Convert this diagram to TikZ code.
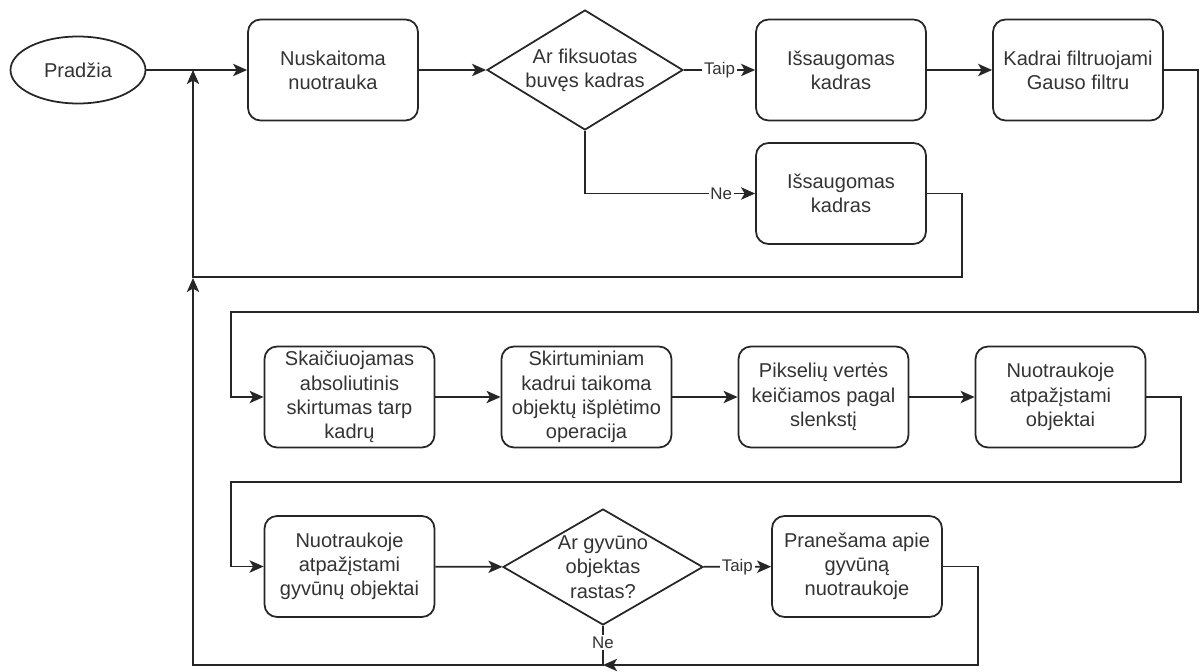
\documentclass[tikz,border=0pt]{standalone}
\usepackage{fontspec}
\setmainfont{Liberation Sans}
\usetikzlibrary{shapes.geometric,arrows.meta}

\begin{document}
\begin{tikzpicture}[x=0.02cm,y=-0.02cm,
    every node/.style={text=black!80, font=\fontsize{11.4}{13.8}\selectfont},
    box/.style={draw=black!85, line width=1pt, rectangle, rounded corners=0.25cm,
        minimum width=3.4cm, minimum height=2.02cm, inner sep=1pt, align=center},
    decision/.style={draw=black!85, line width=1pt, diamond, inner sep=-0.6cm, align=center},
    terminal/.style={draw=black!85, line width=1pt, ellipse,
        minimum width=2.7cm, minimum height=1.34cm, inner sep=0pt},
    flow/.style={draw=black!85, line width=1pt, -{Stealth[length=8pt,width=7pt,inset=2pt]}},
    lbl/.style={fill=white, inner sep=1pt, font=\fontsize{9.6}{11}\selectfont}]
    \useasboundingbox (0,0) rectangle (1200,672);
    % first row
    \node[terminal] (start) at (78,70) {Pradžia};
    \node[box] (read) at (333,70) {Nuskaitoma\\nuotrauka};
    \node[decision, minimum width=3.92cm, minimum height=2.4cm] (fixed) at (585,70) {Ar fiksuotas\\buvęs kadras};
    \node[box] (save1) at (841,70) {Išsaugomas\\kadras};
    \node[box] (gauss) at (1078,70) {Kadrai filtruojami\\Gauso filtru};
    \node[box] (save2) at (841,193.5) {Išsaugomas\\kadras};
    % second row
    \node[box] (diff) at (349.5,397) {Skaičiuojamas\\absoliutinis\\skirtumas tarp\\kadrų};
    \node[box] (dilate) at (586.5,397) {Skirtuminiam\\kadrui taikoma\\objektų išplėtimo\\operacija};
    \node[box] (thresh) at (823.5,397) {Pikselių vertės\\keičiamos pagal\\slenkstį};
    \node[box] (objects) at (1060.5,397) {Nuotraukoje\\atpažįstami\\objektai};
    % third row
    \node[box] (animals) at (349.5,566.5) {Nuotraukoje\\atpažįstami\\gyvūnų objektai};
    \node[decision, minimum width=4cm, minimum height=2.32cm] (found) at (603,567) {Ar gyvūno\\objektas\\rastas?};
    \node[box] (notify) at (857,566.5) {Pranešama apie\\gyvūną\\nuotraukoje};
    \coordinate (j1) at (193,70);
    \coordinate (j2) at (193,278);
    \coordinate (j3) at (603,665);
    %
    \draw[flow] (start.east) -- (read.west);
    \draw[flow] (read) -- (fixed);
    \draw[flow] (fixed) -- node[lbl]{Taip} (save1);
    \draw[flow] (fixed.south) |- node[lbl,pos=0.9]{Ne} (save2.west);
    \draw[flow] (save1) -- (gauss);
    \draw[flow] (save2.east) -- ++(35,0) |- (193,277) -- (j1);
    \draw[flow] (gauss.east) -- ++(34,0) |- (231,312) |- (diff.west);
    %
    \draw[flow] (diff) -- (dilate);
    \draw[flow] (dilate) -- (thresh);
    \draw[flow] (thresh) -- (objects);
    \draw[flow] (objects.east) -- ++(35,0) |- (231,482) |- (animals.west);
    %
    \draw[flow] (animals) -- (found);
    \draw[flow] (found) -- node[lbl]{Taip} (notify);
    \draw[flow] (found.south) -- node[lbl,pos=0.42]{Ne} (j3) -| (j2);
    \draw[flow] (notify.east) -- ++(35,0) |- (j3);
\end{tikzpicture}
\end{document}
